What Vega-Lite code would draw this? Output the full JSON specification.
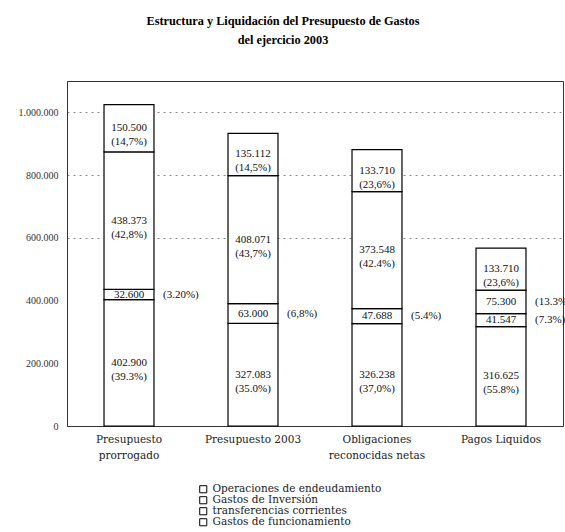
{
  "$schema": "https://vega.github.io/schema/vega-lite/v6.json",
  "width": 496,
  "height": 345,
  "padding": {"left": 5, "top": 14, "right": 5, "bottom": 5},
  "background": "#ffffff",
  "config": {
    "locale": {"number": {"decimal": ",", "thousands": ".", "grouping": [3], "currency": ["", "€"]}},
    "font": "Liberation Serif",
    "view": {"stroke": "#333333", "strokeWidth": 1}
  },
  "title": {
    "text": ["Estructura y Liquidación del Presupuesto de Gastos", "del ejercicio 2003"],
    "font": "Liberation Serif",
    "fontSize": 12.3,
    "fontWeight": "bold",
    "lineHeight": 19,
    "anchor": "middle",
    "frame": "group",
    "dx": -32,
    "offset": 35,
    "color": "#000000"
  },
  "data": {
    "values": [
      {"ejercicio": "Presupuesto prorrogado", "tipo": "Gastos de funcionamiento", "valor": 402900, "etiqueta": "402.900\n(39.3%)", "fuera": ""},
      {"ejercicio": "Presupuesto prorrogado", "tipo": "transferencias corrientes", "valor": 32600, "etiqueta": "32.600", "fuera": "(3.20%)"},
      {"ejercicio": "Presupuesto prorrogado", "tipo": "Gastos de Inversión", "valor": 438373, "etiqueta": "438.373\n(42,8%)", "fuera": ""},
      {"ejercicio": "Presupuesto prorrogado", "tipo": "Operaciones de endeudamiento", "valor": 150500, "etiqueta": "150.500\n(14,7%)", "fuera": ""},
      {"ejercicio": "Presupuesto 2003", "tipo": "Gastos de funcionamiento", "valor": 327083, "etiqueta": "327.083\n(35.0%)", "fuera": ""},
      {"ejercicio": "Presupuesto 2003", "tipo": "transferencias corrientes", "valor": 63000, "etiqueta": "63.000", "fuera": "(6,8%)"},
      {"ejercicio": "Presupuesto 2003", "tipo": "Gastos de Inversión", "valor": 408071, "etiqueta": "408.071\n(43,7%)", "fuera": ""},
      {"ejercicio": "Presupuesto 2003", "tipo": "Operaciones de endeudamiento", "valor": 135112, "etiqueta": "135.112\n(14,5%)", "fuera": ""},
      {"ejercicio": "Obligaciones reconocidas netas", "tipo": "Gastos de funcionamiento", "valor": 326238, "etiqueta": "326.238\n(37,0%)", "fuera": ""},
      {"ejercicio": "Obligaciones reconocidas netas", "tipo": "transferencias corrientes", "valor": 47688, "etiqueta": "47.688", "fuera": "(5.4%)"},
      {"ejercicio": "Obligaciones reconocidas netas", "tipo": "Gastos de Inversión", "valor": 373548, "etiqueta": "373.548\n(42.4%)", "fuera": ""},
      {"ejercicio": "Obligaciones reconocidas netas", "tipo": "Operaciones de endeudamiento", "valor": 133710, "etiqueta": "133.710\n(23,6%)", "fuera": ""},
      {"ejercicio": "Pagos Liquidos", "tipo": "Gastos de funcionamiento", "valor": 316625, "etiqueta": "316.625\n(55.8%)", "fuera": ""},
      {"ejercicio": "Pagos Liquidos", "tipo": "transferencias corrientes", "valor": 41547, "etiqueta": "41.547", "fuera": "(7.3%)"},
      {"ejercicio": "Pagos Liquidos", "tipo": "Gastos de Inversión", "valor": 75300, "etiqueta": "75.300", "fuera": "(13.3%)"},
      {"ejercicio": "Pagos Liquidos", "tipo": "Operaciones de endeudamiento", "valor": 133710, "etiqueta": "133.710\n(23,6%)", "fuera": ""}
    ]
  },
  "transform": [
    {"calculate": "indexof(['Gastos de funcionamiento','transferencias corrientes','Gastos de Inversión','Operaciones de endeudamiento'], datum.tipo)", "as": "capa"},
    {"stack": "valor", "groupby": ["ejercicio"], "sort": [{"field": "capa", "order": "ascending"}], "as": ["v0", "v1"]},
    {"calculate": "(datum.v0 + datum.v1) / 2", "as": "vm"}
  ],
  "encoding": {
    "x": {
      "field": "ejercicio",
      "type": "nominal",
      "sort": null,
      "title": null,
      "scale": {"paddingInner": 0.597, "paddingOuter": 0.2985},
      "axis": {
        "labelAngle": 0,
        "ticks": false,
        "domain": true,
        "domainColor": "#333333",
        "grid": false,
        "labelFont": "DejaVu Serif",
        "labelFontSize": 10.5,
        "labelColor": "#222222",
        "labelPadding": 8,
        "labelLineHeight": 16,
        "labelExpr": "datum.label == 'Presupuesto prorrogado' ? ['Presupuesto', 'prorrogado'] : datum.label == 'Obligaciones reconocidas netas' ? ['Obligaciones', 'reconocidas netas'] : datum.label"
      }
    }
  },
  "layer": [
    {
      "mark": {"type": "bar", "fill": "#ffffff", "stroke": "#000000", "strokeWidth": 1.2},
      "encoding": {
        "y": {
          "field": "v0",
          "type": "quantitative",
          "title": null,
          "scale": {"domain": [0, 1100000], "nice": false},
          "axis": {
            "values": [0, 200000, 400000, 600000, 800000, 1000000],
            "format": ",.0f",
            "ticks": false,
            "domain": true,
            "domainColor": "#333333",
            "grid": true,
            "gridDash": [2, 4],
            "gridColor": "#888888",
            "gridOpacity": {"condition": {"test": "datum.value >= 600000", "value": 1}, "value": 0},
            "labelFont": "Liberation Serif",
            "labelFontSize": 10,
            "labelColor": "#333333",
            "labelPadding": 9,
            "minExtent": 62,
            "maxExtent": 62
          }
        },
        "y2": {"field": "v1"},
        "color": {
          "field": "tipo",
          "type": "nominal",
          "scale": {
            "domain": ["Operaciones de endeudamiento", "Gastos de Inversión", "transferencias corrientes", "Gastos de funcionamiento"],
            "range": ["#ffffff", "#ffffff", "#ffffff", "#ffffff"]
          },
          "legend": {
            "orient": "none",
            "legendX": 131,
            "legendY": 403,
            "title": null,
            "symbolType": "square",
            "symbolSize": 50,
            "symbolStrokeColor": "#000000",
            "symbolStrokeWidth": 1,
            "labelFont": "DejaVu Serif",
            "labelFontSize": 10.5,
            "labelColor": "#222222",
            "labelOffset": 4,
            "labelLimit": 400,
            "rowPadding": -2
          }
        }
      }
    },
    {
      "mark": {"type": "text", "lineBreak": "\n", "font": "Liberation Serif", "fontSize": 11, "lineHeight": 14, "baseline": "middle", "align": "center", "color": "#111111"},
      "encoding": {
        "y": {"field": "vm", "type": "quantitative"},
        "text": {"field": "etiqueta"}
      }
    },
    {
      "transform": [{"filter": "datum.fuera != ''"}],
      "mark": {"type": "text", "font": "Liberation Serif", "fontSize": 11, "baseline": "middle", "align": "left", "dx": 34, "color": "#111111"},
      "encoding": {
        "y": {"field": "vm", "type": "quantitative"},
        "text": {"field": "fuera"}
      }
    }
  ]
}
